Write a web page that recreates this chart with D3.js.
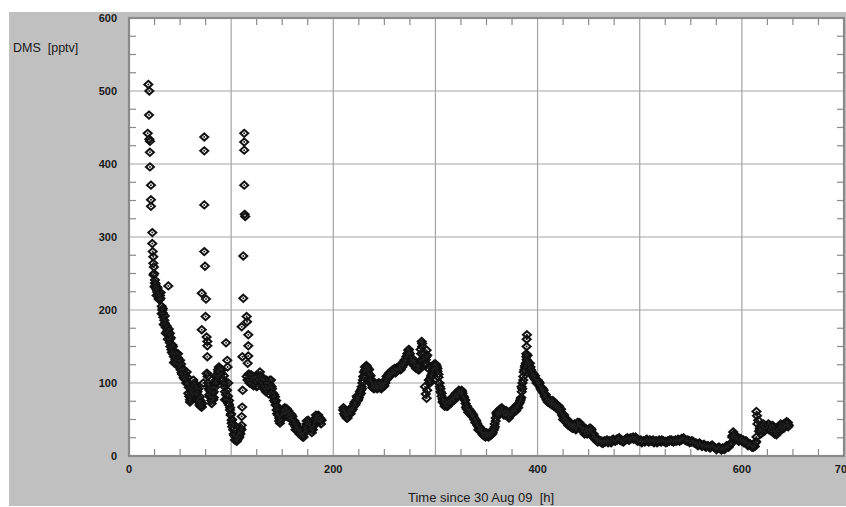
<!DOCTYPE html>
<html>
<head>
<meta charset="utf-8">
<script src="https://cdn.jsdelivr.net/npm/d3@7"></script>
<style>
  body { margin: 0; background: #fff; }
  text { font-family: "Liberation Sans", Arial, sans-serif; white-space: pre; }
</style>
</head>
<body>
<div class="chart"></div>
<script>
// DMS mixing ratio vs hours since 30 Aug 09, three legs
let leg1Hours = [18.3,18.9,19.6,19.9,19.9,20.5,20.5,20.5,21.5,21.5,21.5,22.8,22.8,23.2,23.8,23.8,24.4,24.6,25.4,25.4,26,26.5,27,27.5,28,28.7,29.3,30.3,30.8,
  38.5,32,32.6,33.2,33.6,34.6,35.2,36,37,38,39,40,40.1,40.5,41.5,42.5,43,44,45,45.5,46.7,47.5,48.5,49,50,50.5,51.5,52.5,53.5,54.8,55.5,56.5,57.5,58,58.5,59.7,59.7,60.5,61.4,62,63,63.5,64.6,65.5,66.3,67,68,69,69.5,69.5,70,71,71.2,71.8,
  71.2,71.2,73.7,73.7,73.7,73.7,74.4,75.4,75,76,76.7,76.7,76.7,76.7,77,
  72.8,76,77.6,78,78.5,79.3,80,80.5,81,82,82.5,83,84.2,85,86,87.4,88,89,90,90.7,91.5,92.5,93.5,94,94,95,95.6,96.2,96.5,97.2,97.2,98,98.9,99.5,100.5,100.5,101,102,102.5,103.7,104.5,105.4,106,107,108,108.6,109.5,110.3,110.3,110.8,111.3,111,110.3,111.9,111.9,
  112.8,112.8,112.8,112.8,113.2,113.8,115.2,115.6,116.8,116.8,116.8,116.2,
  115.2,116,117,118,119,120,121,122,123.3,124,125,126,127,128.2,129,130,131,132,133,134,134.8,135.5,136.3,137,138,139,139.7,140.5,141.2,142,143,143.5,144.5,145,146,147,147.8,148.5,149.5,150.5,151.5,152.5,153.5,154.3,155.5,156.5,157.5,158.5,159.2,160,161,162,163,164.1,165,166,167,168,169,170,171,172,173,174,175.5,176.5,177.5,178.8,180,181,182,183,184,185.3,186,187,188,188.6];
let leg1Dms = [442,509,467,500,434,431,416,396,371,351,342,306,291,280,273,264,259,250,241,237,233,229,232,226,224,223,220,220,216,
  233,205,200,196,190,186,182,176,170,172,166,168,160,150,146,152,140,136,127,132,141,135,130,122,131,118,114,120,108,113,104,115,100,86,94,77,74,88,86,96,104,99,86,92,95,88,79,75,72,81,68,67,67,72,
  223,173,437,418,344,280,260,215,191,163,157,151,136,113,109,
  100,113,100,92,84,81,88,76,94,86,77,80,100,104,108,115,110,120,118,113,106,100,95,88,77,155,77,131,122,100,72,70,63,56,49,45,40,36,30,22,26,20,28,24,33,31,38,42,54,67,90,136,177,216,274,
  442,430,419,371,331,328,191,184,166,151,137,127,
  109,104,112,100,108,111,98,106,109,100,95,104,110,115,100,96,106,92,100,88,104,94,100,85,98,104,95,86,81,76,81,70,63,68,56,52,45,49,56,62,58,66,63,65,60,56,58,52,56,50,48,44,40,40,35,33,30,36,28,26,30,34,40,44,49,42,38,36,40,46,50,52,48,56,52,47,50,49];
// second, scattered readings along the dense part of leg 1
let leg1bHours = [24,25,26,27,28,29,30,31,32,33,34,35,36,37,38,39,40,41,42,43,44,45,46,47,48,49,50,51,52,53,54,55,56,57,58,59,60,61,62,63,64,65,66,67,68,69,70,
  78,79,80,81,82,83,84,85,86,87,88,89,90,91,92,93,94,95,96,97,98,99,100,101,102,103,104,105,106,107,108,109,110,
  117,118,119,120,121,122,123,124,125,126,127,128,129,130,131,132,133,134,135,136,137,138,139,140,141,142,143,144,145,146,147,148,149,150,151,152,153,154,155,156,157,158,159,160,161,162,163,164,165,166,167,168,169,170,171,172,173,174,175,176,177,178,179,180,181,182,183,184,185,186,187,188];
let leg1bDms = [248,232,236,220,230,215,214,224,195,202,180,192,168,178,160,174,155,162,142,150,128,140,132,126,140,130,124,126,112,118,106,110,100,108,98,82,80,92,84,90,100,96,84,76,92,70,76,
  96,90,80,72,80,88,94,110,100,118,122,112,106,118,104,110,100,84,90,82,76,66,58,50,44,28,34,26,22,32,26,30,36,
  104,112,100,104,108,96,102,108,104,96,102,106,110,104,96,104,92,96,100,92,94,104,88,92,86,84,74,76,58,64,48,54,50,58,64,60,58,60,54,62,52,58,50,54,44,48,36,44,38,38,34,30,32,30,26,38,36,48,44,46,44,40,32,36,42,46,56,54,50,48,52,44];

let leg2Hours = [209.7,210.5,211.5,212,213,214,215,216,217,218,219.6,220.5,221.5,222.9,223.5,224.5,225.5,226.1,227,227.8,228.5,229.3,230,231,231.5,232.5,233.5,234.2,235,235.9,236.5,237.5,238.2,239,240,241,242,243,244,245,246,247,248,248.9,250,251,252.2,253,254,255,256,257.1,258,259,260,261,262,263.6,264.5,265.5,266.5,267.5,268.5,269.5,270.5,271.5,272.5,273.4,274,275,276,277,278,279,279.9,281,282,283.2,284,285,285.5,286.5,287,288,288.5,289.7,290.5,291.4,292,293,
  289.7,290.5,291.4,292,293.5,294.6,295.5,296.5,297.8,298.5,299.5,300.2,301.2,302,303,303.5,304.4,305,306,307,307.7,308.5,309.5,311,312,313,314,315,316,317.5,318.5,319.5,320.5,321.5,322.5,323.5,324.5,325.7,326.5,327.5,328.9,329.5,330.5,331,332.1,333,334,335,336,337,338,339,340,341,341.9,343,344,345,346,346.8,348,349,350,351,352,353.3,354.5,355.5,356.5,357.5,358.2,359,359.8,360.5,361.5,362.5,363.5,364.8,365.5,366.5,367.5,368.5,369.5,370.5,371.5,372.9,374,375,376,377,377.8,379,380,381,382.7,383.5,384.3,384.5,385.2,386,386.5,387.6,388.5,389.3,389.3,389.3,389.6,389,390.2,390.8,391.5];
let leg2Dms = [63,58,55,60,52,56,62,60,64,62,67,72,70,77,80,78,84,84,90,95,100,109,115,122,118,124,118,120,112,104,110,98,94,93,97,100,94,92,100,97,93,96,98,95,100,104,109,106,112,110,113,116,114,117,115,119,117,120,122,120,124,122,127,130,128,136,140,145,142,136,132,134,128,130,127,124,120,118,124,130,146,157,150,141,135,127,132,145,138,120,
  95,85,79,90,104,100,108,112,118,124,120,126,122,116,108,100,95,88,82,78,77,72,70,68,74,72,76,74,78,77,80,82,80,84,86,88,86,90,86,82,77,72,68,64,63,60,62,56,58,54,52,50,46,42,40,36,38,33,30,31,28,32,29,27,30,29,32,30,35,38,40,48,58,55,60,62,58,65,62,58,60,56,62,58,54,56,60,58,64,62,63,66,68,70,74,78,95,88,100,109,115,122,127,132,150,160,166,140,138,127,120];
let leg2bHours = [210,211,212,213,214,215,216,217,218,219,220,221,222,223,224,225,226,227,228,229,230,231,232,233,234,235,236,237,238,239,240,241,242,243,244,245,246,247,248,249,250,251,252,253,254,255,256,257,258,259,260,261,262,263,264,265,266,267,268,269,270,271,272,273,274,275,276,277,278,279,280,281,282,283,284,286,287,288,290,291,292,
  294,295,296,297,298,299,300,301,302,303,304,305,306,307,308,309,310,311,312,313,314,315,316,317,318,319,320,321,322,323,324,325,326,327,328,329,330,331,332,333,334,335,336,337,338,339,340,341,342,343,344,345,346,347,348,349,350,351,352,353,354,355,356,357,358,359,360,361,362,363,364,365,366,367,368,369,370,371,372,373,374,375,376,377,378,379,380,381,382,383,384,385,386,387,388,389,390,391];
let leg2bDms = [66,62,56,58,52,58,64,58,66,64,68,74,72,82,76,80,88,86,92,104,108,116,118,122,114,118,106,102,100,96,92,96,98,96,94,100,98,92,100,98,96,100,104,110,108,114,110,112,118,114,120,114,120,118,118,124,118,126,124,126,132,130,136,140,146,140,128,130,132,124,130,120,124,122,118,140,154,132,124,136,126,
  104,102,110,116,120,126,120,124,120,112,100,92,86,74,76,68,72,74,68,76,72,78,74,80,76,84,86,80,82,90,88,84,88,80,80,76,66,68,60,64,58,60,54,56,50,46,48,44,36,40,34,36,32,28,32,26,32,30,26,32,28,34,32,36,44,52,60,56,58,64,60,66,60,56,62,58,56,60,52,58,56,62,60,66,64,62,70,66,72,76,80,92,104,118,124,136,130,124];

let leg3Hours = [392.5,393.5,394.5,395.7,396.5,397.5,399,400,401,402,403,404,405,406,407,408,408.8,410,411,412,413,414,415.3,416.5,417.5,418.5,419.5,420.5,421.9,423,424,425,426,427,428,429,430,431,432,433,434,435,436.5,437.5,438.5,439.5,440.5,441.4,442.5,443.5,444.5,445.5,446.3,447.5,448.5,449.5,450.5,452,452.9,454,455,456.1,457.5,458.5,459.5,461,462.5,464,465.5,467.5,469,471,473,475,477.3,479,481,483,485,487.1,489,491,493.6,495.5,497.5,500.2,502,504,506,508,509.9,512,514,516,518,519.7,521.5,523.5,525.5,527.5,529.5,531.5,533.5,535.5,537.5,539.5,541,542.5,544.5,546.5,548.5,550.5,552.3,554.5,556.5,558.5,560.5,562.1,564,566,568,570,571.9,574,576,578,580,582,584,586,588.2,589.5,590.5,591.5,592.5,593.5,594.8,596,597.5,599,601.3,603,604.5,606,607.8,609.5,611,612.7,613.5,614.3,614.3,614.8,615.2,616,616.8,617.6,618.5,619,620,620.9,622,623.5,625,626.5,627.4,628.5,630,631,632,633,633.9,635,636,637.2,638.5,640,641,642,643.7,644.5,645.3];
let leg3Dms = [127,118,112,113,108,110,104,100,102,96,94,90,92,86,84,80,77,78,74,76,72,74,72,70,68,70,66,68,65,60,56,54,52,48,50,46,45,42,44,40,38,42,40,36,40,42,46,45,40,36,38,34,33,36,30,32,36,38,36,30,28,26,24,22,21,20,18,20,21,20,18,20,22,21,23,24,21,20,22,24,22,25,26,24,22,20,18,21,22,20,22,20,18,21,20,20,22,20,18,21,22,20,21,20,23,22,24,24,22,20,21,19,20,17,16,18,15,15,13,14,12,14,13,11,10,12,8,10,12,13,15,18,26,33,30,27,24,22,24,22,22,20,18,16,15,14,12,13,18,26,61,55,44,49,34,38,30,42,36,40,38,42,40,36,40,38,42,36,30,32,29,34,38,41,39,40,44,41,47,44,40];
let leg3bHours = [393,394,395,396,397,398,399,400,401,402,403,404,405,406,407,408,409,410,411,412,413,414,415,416,417,418,419,420,421,422,423,424,425,426,427,428,429,430,431,432,433,434,435,436,437,438,439,440,441,442,443,444,445,446,447,448,449,450,451,452,453,454,455,456,457,458,459,460,462,464,466,468,470,472,474,476,478,480,482,484,486,488,490,492,494,496,498,501,503,505,507,509,511,513,515,517,519,521,523,525,527,529,531,533,535,537,539,541,543,545,547,549,551,553,555,557,559,561,563,565,567,569,571,573,575,577,579,581,583,585,587,589,591,593,595,597,599,600,602,604,606,608,610,612,614,618,619,621,622,624,626,628,629,631,632,634,636,638,639,641,643,645,646];
let leg3bDms = [122,116,110,112,106,104,100,104,98,100,92,94,88,90,82,84,78,74,78,72,76,70,76,68,72,66,70,64,68,62,64,58,50,56,52,46,50,42,46,40,44,42,38,44,42,38,46,44,40,42,38,34,38,30,38,34,36,32,38,34,32,26,30,24,22,24,19,22,21,17,19,22,21,18,23,20,22,25,22,19,23,25,22,24,23,26,20,22,20,19,23,19,21,22,20,18,22,19,21,20,19,20,22,19,22,21,20,22,25,21,22,18,21,18,18,14,16,13,16,12,14,11,15,12,9,12,10,11,9,14,12,16,28,24,26,20,24,20,18,21,14,17,12,15,20,36,34,44,34,38,44,42,34,40,34,36,34,44,36,38,42,46,42];

let xTicks = [0, 200, 400, 600, 700];
let yTicks = [0, 100, 200, 300, 400, 500, 600];

let hours = leg1Hours.concat(leg1bHours, leg2Hours, leg2bHours, leg3Hours, leg3bHours);
let dms = leg1Dms.concat(leg1bDms, leg2Dms, leg2bDms, leg3Dms, leg3bDms);
let data = hours.map(function(h, i) { return {t: h, v: dms[i]}; });

let width = 846, height = 507;
let plot = {left: 129, top: 18, right: 844, bottom: 456};

let svg = d3.select(".chart").append("svg")
    .attr("width", width)
    .attr("height", height);

// grey panel behind everything
svg.append("rect")
    .attr("x", 9).attr("y", 12)
    .attr("width", width - 9).attr("height", 494)
    .attr("fill", "#c0c0c0");

svg.append("rect")
    .attr("x", plot.left).attr("y", plot.top)
    .attr("width", plot.right - plot.left).attr("height", plot.bottom - plot.top)
    .attr("fill", "#fff");

let x = d3.scaleLinear().domain([0, 700]).range([plot.left, plot.right]);
let y = d3.scaleLinear().domain([0, 600]).range([plot.bottom, plot.top]);

// grid every 100
let g = svg.append("g");
g.selectAll(".vgrid")
  .data(d3.range(100, 700, 100))
  .enter().append("line")
    .attr("x1", d => x(d)).attr("x2", d => x(d))
    .attr("y1", plot.top).attr("y2", plot.bottom)
    .attr("stroke", "#a4a4a4").attr("stroke-width", 1.2);
g.selectAll(".hgrid")
  .data(d3.range(100, 600, 100))
  .enter().append("line")
    .attr("x1", plot.left).attr("x2", plot.right)
    .attr("y1", d => y(d)).attr("y2", d => y(d))
    .attr("stroke", "#a4a4a4").attr("stroke-width", 1.2);

// minor ticks every 25, inward on all four sides
let tl = 7;
let xMinor = d3.range(25, 700, 25).filter(d => d % 100 != 0);
let yMinor = d3.range(25, 600, 25).filter(d => d % 100 != 0);
g.selectAll(".xb").data(xMinor).enter().append("line")
    .attr("x1", d => x(d)).attr("x2", d => x(d))
    .attr("y1", plot.bottom).attr("y2", plot.bottom - tl)
    .attr("stroke", "#8a8a8a").attr("stroke-width", 1.2);
g.selectAll(".xt").data(xMinor).enter().append("line")
    .attr("x1", d => x(d)).attr("x2", d => x(d))
    .attr("y1", plot.top).attr("y2", plot.top + tl)
    .attr("stroke", "#8a8a8a").attr("stroke-width", 1.2);
g.selectAll(".yl").data(yMinor).enter().append("line")
    .attr("x1", plot.left).attr("x2", plot.left + tl)
    .attr("y1", d => y(d)).attr("y2", d => y(d))
    .attr("stroke", "#8a8a8a").attr("stroke-width", 1.2);
g.selectAll(".yr").data(yMinor).enter().append("line")
    .attr("x1", plot.right).attr("x2", plot.right - tl)
    .attr("y1", d => y(d)).attr("y2", d => y(d))
    .attr("stroke", "#8a8a8a").attr("stroke-width", 1.2);

// points: open diamonds
let diamond = "M0,-3.6L4,0L0,3.6L-4,0Z";
let pts = svg.append("g");
pts.selectAll(".pt")
  .data(data)
  .enter().append("path")
    .attr("transform", d => "translate(" + x(d.t) + "," + y(d.v) + ")")
    .attr("d", diamond)
    .attr("fill", "none")
    .attr("stroke", "#111")
    .attr("stroke-width", 2);
pts.selectAll(".dot")
  .data(data)
  .enter().append("circle")
    .attr("cx", d => x(d.t)).attr("cy", d => y(d.v))
    .attr("r", 1)
    .attr("fill", "#222");

// frame
svg.append("rect")
    .attr("x", plot.left).attr("y", plot.top)
    .attr("width", plot.right - plot.left).attr("height", plot.bottom - plot.top)
    .attr("fill", "none")
    .attr("stroke", "#8a8a8a").attr("stroke-width", 2.2);

// tick labels
svg.selectAll(".ylab").data(yTicks).enter().append("text")
    .attr("x", 117).attr("y", d => y(d))
    .attr("dy", "0.35em")
    .attr("text-anchor", "end")
    .attr("font-size", 11).attr("font-weight", "bold")
    .attr("fill", "#1a1a1a")
    .text(d => d);
svg.selectAll(".xlab").data(xTicks).enter().append("text")
    .attr("x", d => x(d)).attr("y", 473)
    .attr("text-anchor", "middle")
    .attr("font-size", 11).attr("font-weight", "bold")
    .attr("fill", "#1a1a1a")
    .text(d => d);

svg.append("text")
    .attr("x", 13).attr("y", 52)
    .attr("font-size", 12.5).attr("fill", "#1a1a1a")
    .text("DMS  [pptv]");
svg.append("text")
    .attr("x", 408).attr("y", 502)
    .attr("font-size", 13).attr("fill", "#1a1a1a")
    .text("Time since 30 Aug 09  [h]");
</script>
</body>
</html>
